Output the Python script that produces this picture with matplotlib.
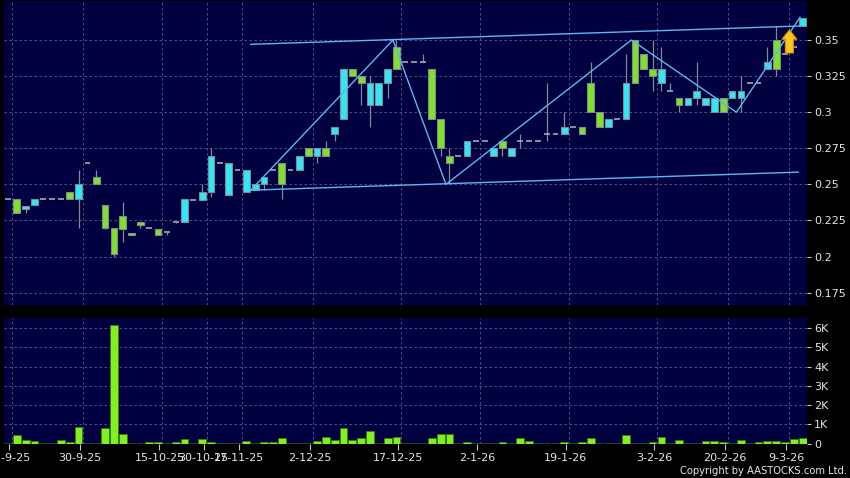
import matplotlib
matplotlib.use("Agg")
import matplotlib.pyplot as plt
import numpy as np

# ---------------- data ----------------
opens = [0.24, 0.24, 0.233, 0.236, 0.24, 0.24, 0.24, 0.245, 0.24, 0.265,
         0.255, 0.236, 0.22, 0.228, 0.216, 0.224, 0.22, 0.219, 0.217, 0.224,
         0.224, 0.239, 0.239, 0.245, 0.265, 0.243, 0.26, 0.245, 0.246, 0.25,
         0.26, 0.265, 0.26, 0.26, 0.275, 0.27, 0.275, 0.285, 0.295, 0.33,
         0.325, 0.305, 0.305, 0.32, 0.345, 0.335, 0.335, 0.335, 0.33, 0.295,
         0.27, 0.27, 0.27, 0.28, 0.28, 0.27, 0.28, 0.27, 0.28, 0.28,
         0.28, 0.285, 0.285, 0.285, 0.29, 0.29, 0.32, 0.30, 0.29, 0.295,
         0.295, 0.35, 0.34, 0.33, 0.32, 0.315, 0.31, 0.305, 0.31, 0.305,
         0.30, 0.31, 0.31, 0.31, 0.32, 0.32, 0.33, 0.35, 0.34, 0.345,
         0.36]
highs = [0.24, 0.24, 0.235, 0.24, 0.24, 0.24, 0.24, 0.245, 0.26, 0.265,
         0.26, 0.236, 0.22, 0.238, 0.216, 0.224, 0.22, 0.219, 0.217, 0.224,
         0.24, 0.239, 0.25, 0.275, 0.265, 0.265, 0.26, 0.26, 0.25, 0.255,
         0.26, 0.265, 0.26, 0.27, 0.275, 0.275, 0.28, 0.29, 0.33, 0.33,
         0.325, 0.325, 0.32, 0.33, 0.35, 0.335, 0.335, 0.34, 0.33, 0.295,
         0.275, 0.27, 0.28, 0.28, 0.28, 0.275, 0.28, 0.275, 0.285, 0.28,
         0.28, 0.32, 0.285, 0.30, 0.29, 0.29, 0.335, 0.30, 0.295, 0.295,
         0.34, 0.35, 0.34, 0.35, 0.345, 0.32, 0.31, 0.31, 0.335, 0.31,
         0.31, 0.31, 0.315, 0.325, 0.32, 0.32, 0.345, 0.36, 0.35, 0.345,
         0.365]
lows = [0.24, 0.23, 0.23, 0.236, 0.24, 0.24, 0.24, 0.24, 0.22, 0.265,
        0.25, 0.219, 0.20, 0.21, 0.215, 0.22, 0.22, 0.215, 0.215, 0.223,
        0.224, 0.239, 0.239, 0.241, 0.265, 0.243, 0.26, 0.245, 0.246, 0.246,
        0.26, 0.24, 0.26, 0.26, 0.27, 0.265, 0.27, 0.28, 0.295, 0.325,
        0.305, 0.29, 0.305, 0.31, 0.33, 0.335, 0.335, 0.335, 0.295, 0.27,
        0.25, 0.27, 0.27, 0.28, 0.28, 0.27, 0.27, 0.27, 0.275, 0.28,
        0.28, 0.28, 0.285, 0.285, 0.29, 0.285, 0.30, 0.29, 0.29, 0.295,
        0.295, 0.32, 0.33, 0.315, 0.315, 0.315, 0.30, 0.305, 0.305, 0.305,
        0.30, 0.30, 0.31, 0.30, 0.32, 0.32, 0.33, 0.325, 0.34, 0.345,
        0.36]
closes = [0.24, 0.23, 0.235, 0.24, 0.24, 0.24, 0.24, 0.24, 0.25, 0.265,
          0.25, 0.22, 0.202, 0.219, 0.215, 0.222, 0.22, 0.215, 0.217, 0.224,
          0.24, 0.239, 0.245, 0.27, 0.265, 0.265, 0.26, 0.26, 0.25, 0.255,
          0.26, 0.25, 0.26, 0.27, 0.27, 0.275, 0.27, 0.29, 0.33, 0.325,
          0.32, 0.32, 0.32, 0.33, 0.33, 0.335, 0.335, 0.335, 0.295, 0.275,
          0.265, 0.27, 0.28, 0.28, 0.28, 0.275, 0.275, 0.275, 0.28, 0.28,
          0.28, 0.285, 0.285, 0.29, 0.29, 0.285, 0.30, 0.29, 0.295, 0.295,
          0.32, 0.32, 0.33, 0.325, 0.33, 0.315, 0.305, 0.31, 0.315, 0.31,
          0.31, 0.30, 0.315, 0.315, 0.32, 0.32, 0.335, 0.33, 0.34, 0.345,
          0.365]
volumes = [0, 452, 157, 122, 30, 20, 157, 104, 835, 20,
           20, 783, 6194, 470, 20, 20, 87, 87, 20, 87,
           209, 20, 244, 104, 20, 20, 20, 139, 20, 87,
           87, 300, 20, 20, 20, 133, 323, 171, 798, 171,
           285, 665, 20, 266, 342, 20, 20, 20, 285, 513,
           475, 20, 57, 20, 20, 20, 76, 20, 285, 133,
           20, 30, 20, 95, 20, 57, 285, 40, 40, 20,
           418, 40, 40, 57, 342, 20, 190, 40, 40, 133,
           133, 95, 20, 190, 30, 95, 133, 114, 76, 247,
           285]

date_idx = [0, 8, 17, 22, 26, 34, 44, 53, 63, 73, 81, 88]
date_labels = ["15-9-25", "30-9-25", "15-10-25", "30-10-25", "17-11-25",
               "2-12-25", "17-12-25", "2-1-26", "19-1-26", "3-2-26",
               "20-2-26", "9-3-26"]
price_ticks = [0.175, 0.2, 0.225, 0.25, 0.275, 0.3, 0.325, 0.35]
price_tick_labels = ["0.175", "0.2", "0.225", "0.25", "0.275", "0.3", "0.325", "0.35"]
vol_ticks = [0, 1000, 2000, 3000, 4000, 5000, 6000]
vol_tick_labels = ["0", "1K", "2K", "3K", "4K", "5K", "6K"]

upper_x = [27.5, 89.7]
upper_y = [0.347, 0.3597]
lower_x = [27.5, 89.5]
lower_y = [0.246, 0.2585]
zig_x = [27.5, 43.6, 49.6, 70.6, 82.5, 89.7]
zig_y = [0.246, 0.35, 0.25, 0.35, 0.30, 0.3657]
signal_x = 88.5
signal_base = 0.341
signal_tip = 0.357

# ---------------- style ----------------
BG = "#000040"
CYAN = "#33e6f6"
GREEN = "#80e02a"
EDGE = "#808a90"
GRID = "#5c5c90"
TXT = "#e6e6e6"
LINE = "#5cb8ee"

o = np.array(opens); h = np.array(highs); l = np.array(lows); c = np.array(closes)
v = np.array(volumes, dtype=float)
x = np.arange(len(o))

fig = plt.figure(figsize=(8.5, 4.78), dpi=100, facecolor="black")
W, H = 850.0, 478.0
ax = fig.add_axes([4 / W, (H - 305) / H, 803 / W, 304 / H])
axv = fig.add_axes([4 / W, (H - 443.5) / H, 803 / W, 125.5 / H])

for a in (ax, axv):
    a.set_facecolor(BG)
    for s in a.spines.values():
        s.set_visible(False)
    a.yaxis.tick_right()
    a.tick_params(axis="y", colors="#c8c8c8", labelcolor=TXT, labelsize=8,
                  length=3, width=0.8, pad=2, direction="out")
    a.set_xlim(-0.45, 90.49)
    a.set_xticks([i + 0.5 for i in date_idx], minor=True)
    a.grid(which="minor", axis="x", color=GRID, linestyle=(0, (3, 3)), linewidth=0.6)
    a.grid(which="major", axis="y", color=GRID, linestyle=(0, (3, 3)), linewidth=0.6)
    a.set_axisbelow(True)

# ---- price panel ----
ax.set_ylim(0.16648, 0.37701)
ax.set_yticks(price_ticks)
ax.set_yticklabels(price_tick_labels)
ax.set_xticks([])
ax.tick_params(axis="x", which="both", length=0)

flat = o == c
up = c > o
down = c < o
# wicks
ax.vlines(x, l, h, color=EDGE, linewidth=0.9, zorder=2)
# bodies
ax.bar(x[up], (c - o)[up], bottom=o[up], width=0.76, color=CYAN,
       edgecolor=EDGE, linewidth=0.8, zorder=3)
ax.bar(x[down], (o - c)[down], bottom=c[down], width=0.76, color=GREEN,
       edgecolor=EDGE, linewidth=0.8, zorder=3)
ax.hlines(o[flat], x[flat] - 0.33, x[flat] + 0.33, color="#a8a8b0", linewidth=1.2, zorder=3)

# trend lines
ax.plot(upper_x, upper_y, color=LINE, linewidth=1.0, zorder=4)
ax.plot(lower_x, lower_y, color=LINE, linewidth=1.0, zorder=4)
ax.plot(zig_x, zig_y, color=LINE, linewidth=1.0, zorder=4)

# signal arrow
ax.arrow(signal_x, signal_base, 0, signal_tip - signal_base, width=0.9,
         head_width=1.7, head_length=0.0065, length_includes_head=True,
         facecolor="#f8c820", edgecolor="#e08a00", linewidth=0.8, zorder=5)

# ---- volume panel ----
axv.set_ylim(0, 6536)
axv.set_yticks(vol_ticks)
axv.set_yticklabels(vol_tick_labels)
vol_colors = ["#2c4a26" if val < 50 else "#80f020" for val in volumes]
vol_edges = ["#2c4a26" if val < 50 else "#3a7a10" for val in volumes]
axv.bar(x, np.maximum(v, 15), width=0.88, color=vol_colors, edgecolor=vol_edges,
        linewidth=0.6, zorder=3)
axv.set_xticks([i + 0.15 for i in date_idx])
axv.set_xticklabels(date_labels)
axv.tick_params(axis="x", which="major", colors="#c8c8c8", labelcolor=TXT,
                labelsize=8, length=4, width=0.8, pad=3, direction="out")
axv.tick_params(axis="x", which="minor", length=0)

fig.text(0.997, 0.004, "Copyright by AASTOCKS.com Ltd.", ha="right", va="bottom",
         fontsize=7.2, color=TXT)

fig.savefig("out.png", dpi=100, facecolor="black")
